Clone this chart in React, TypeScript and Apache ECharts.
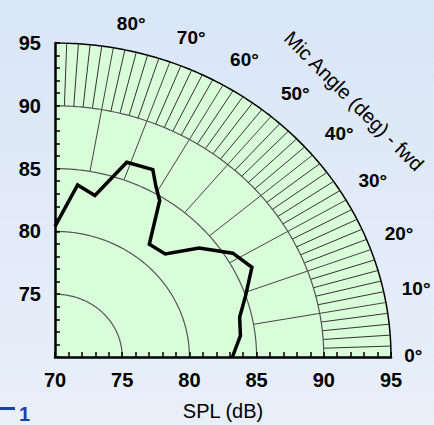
import React, { useEffect, useRef } from 'react';
import * as echarts from 'echarts';

// Mic angle (deg) and SPL (dB)
const micAngles = [0, 7, 13, 19, 26, 32, 39, 45, 52, 58, 61, 64, 71, 77, 83, 90];
const splValues = [83.2, 83.9, 84.1, 85.0, 86.3, 85.6, 83.8, 81.6, 81.4, 84.7, 85.5, 86.6, 86.4, 83.2, 83.8, 80.4];

const splMin = 70;
const splMax = 95;
const ringLevels = [75, 80, 85, 90];
const angleLabels = [0, 10, 20, 30, 40, 50, 60, 70, 80];
// pixel nudges of the angle labels (layout only)
const angleLabelNudge: [number, number][] = [
  [-7, -2], [-4, -11], [-5, -10], [-5, -10], [-3, -10], [-3, -9], [-3, -9], [0, -7], [0, -6],
];

const FONT = '"Liberation Sans", Arial, sans-serif';

function toXY(theta: number, r: number): [number, number] {
  const t = (theta * Math.PI) / 180;
  return [splMin + (r - splMin) * Math.cos(t), splMin + (r - splMin) * Math.sin(t)];
}

function arc(r: number): [number, number][] {
  const pts: [number, number][] = [];
  for (let a = 90; a >= 0; a -= 0.5) pts.push(toXY(a, r));
  return pts;
}

export default function App() {
  const ref = useRef<HTMLDivElement>(null);
  useEffect(() => {
    if (!ref.current) return;
    const chart = echarts.init(ref.current, undefined, { renderer: 'svg' });

    const spokes10: any[] = [];
    const spokes2: any[] = [];
    for (let a = 2; a < 90; a += 2) {
      if (a % 10 === 0) spokes10.push({ coords: [toXY(a, 85), toXY(a, 95)] });
      else spokes2.push({ coords: [toXY(a, 90), toXY(a, 95)] });
    }

    const ringSeries = ringLevels.map((r) => ({
      type: 'line',
      data: arc(r),
      showSymbol: false,
      silent: true,
      z: 3,
      lineStyle: { color: '#555', width: 1.2 },
    }));

    const axisCommon = {
      type: 'value',
      min: splMin,
      max: splMax,
      interval: 1,
      z: 10,
      axisLine: { show: true, onZero: false, lineStyle: { color: '#000', width: 2.5 } },
      axisTick: { show: true, inside: true, length: 5, lineStyle: { color: '#000', width: 1.5 } },
      splitLine: { show: false },
      axisLabel: {
        color: '#000',
        fontFamily: FONT,
        fontWeight: 'bold',
        fontSize: 20,
        formatter: (v: number) => (v % 5 === 0 ? String(v) : ''),
      },
    };

    chart.setOption({
      animation: false,
      backgroundColor: new echarts.graphic.LinearGradient(0, 0, 0, 1, [
        { offset: 0, color: '#d9e6f6' },
        { offset: 1, color: '#e8eff9' },
      ]),
      grid: {
        left: 55,
        top: 43,
        width: 336,
        height: 314,
        containLabel: false,
        outerBoundsMode: 'none',
      },
      xAxis: {
        ...axisCommon,
        axisLabel: { ...axisCommon.axisLabel, margin: 13 },
        name: 'SPL (dB)',
        nameLocation: 'middle',
        nameGap: 44,
        nameTextStyle: { color: '#000', fontFamily: FONT, fontSize: 20 },
      },
      yAxis: {
        ...axisCommon,
        axisLabel: {
          ...axisCommon.axisLabel,
          margin: 14,
          formatter: (v: number) => (v % 5 === 0 && v !== splMin ? String(v) : ''),
        },
      },
      series: [
        {
          type: 'line',
          data: arc(splMax),
          showSymbol: false,
          silent: true,
          z: 1,
          lineStyle: { color: '#000', width: 1.5 },
          areaStyle: { color: '#d9fcd9', opacity: 1, origin: 'start' },
        },
        ...ringSeries,
        {
          type: 'lines',
          coordinateSystem: 'cartesian2d',
          data: spokes10,
          silent: true,
          z: 3,
          lineStyle: { color: '#444', width: 1, opacity: 1 },
        },
        {
          type: 'lines',
          coordinateSystem: 'cartesian2d',
          data: spokes2,
          silent: true,
          z: 3,
          lineStyle: { color: '#333', width: 1, opacity: 1 },
        },
        {
          type: 'line',
          data: micAngles.map((a, i) => toXY(a, splValues[i])),
          showSymbol: false,
          z: 8,
          lineStyle: { color: '#000', width: 3.5, join: 'miter' },
        },
      ],
    });

    const labelGraphics = angleLabels.map((a, i) => {
      const p = chart.convertToPixel({ gridIndex: 0 }, toXY(a, 96.5)) as number[];
      const [dx, dy] = angleLabelNudge[i];
      return {
        type: 'text',
        x: p[0] + dx,
        y: p[1] + dy,
        z: 20,
        style: {
          text: a + '°',
          font: 'bold 19px ' + FONT,
          fill: '#000',
          align: 'left',
          verticalAlign: 'middle',
          textAlign: 'left',
          textVerticalAlign: 'middle',
        },
      };
    });

    chart.setOption({
      graphic: [
        ...labelGraphics,
        {
          type: 'text',
          x: 354,
          y: 101,
          rotation: -Math.PI / 4,
          style: {
            text: 'Mic Angle (deg) - fwd',
            font: '20px ' + FONT,
            fill: '#000',
            align: 'center',
            verticalAlign: 'middle',
            textAlign: 'center',
            textVerticalAlign: 'middle',
          },
        },
        {
          type: 'rect',
          shape: { x: 0, y: 407, width: 15, height: 3 },
          style: { fill: '#1a3fa8' },
        },
        {
          type: 'text',
          x: 19,
          y: 404,
          style: {
            text: '1',
            font: 'bold 20px ' + FONT,
            fill: '#1a3fa8',
          },
        },
      ],
    });
    return () => chart.dispose();
  }, []);
  return (
    <div
      ref={ref}
      style={{ position: 'absolute', left: 0, top: 0, width: 434, height: 425 }}
    />
  );
}
